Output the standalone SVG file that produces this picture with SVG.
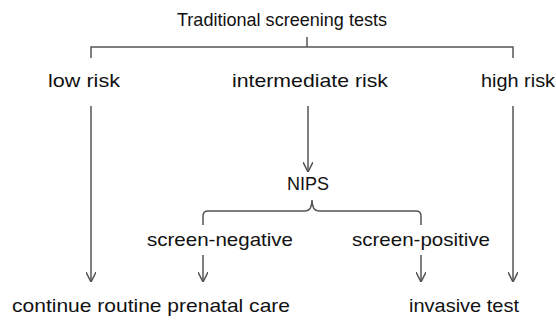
<svg xmlns="http://www.w3.org/2000/svg" width="556" height="320" viewBox="0 0 556 320">
<style>
text{font-family:"Liberation Sans",Arial,sans-serif;font-size:19px;fill:#111;}
.ln{stroke:#555;stroke-width:1.5;fill:none;}
</style>
<defs>
<marker id="ah" viewBox="0 0 10 10" refX="10" refY="5" markerWidth="10" markerHeight="10" markerUnits="userSpaceOnUse" orient="auto">
<path d="M0,0 L10,5 L0,10" fill="none" stroke="#555" stroke-width="1.5"/>
</marker>
</defs>
<rect width="556" height="320" fill="#fff"/>
<g id="title"><text x="282" y="26" text-anchor="middle" textLength="210" lengthAdjust="spacingAndGlyphs">Traditional screening tests</text></g>
<g id="low"><text x="84" y="87" text-anchor="middle" textLength="72" lengthAdjust="spacingAndGlyphs">low risk</text></g>
<g id="intermediate"><text x="310" y="87" text-anchor="middle" textLength="156" lengthAdjust="spacingAndGlyphs">intermediate risk</text></g>
<g id="high"><text x="518" y="87" text-anchor="middle" textLength="74" lengthAdjust="spacingAndGlyphs">high risk</text></g>
<g id="nips"><text x="308" y="190" text-anchor="middle" textLength="42" lengthAdjust="spacingAndGlyphs">NIPS</text></g>
<g id="neg"><text x="220" y="246" text-anchor="middle" textLength="146" lengthAdjust="spacingAndGlyphs">screen-negative</text></g>
<g id="pos"><text x="421" y="246" text-anchor="middle" textLength="138" lengthAdjust="spacingAndGlyphs">screen-positive</text></g>
<g id="routine"><text x="151" y="312" text-anchor="middle" textLength="278" lengthAdjust="spacingAndGlyphs">continue routine prenatal care</text></g>
<g id="invasive"><text x="464" y="312" text-anchor="middle" textLength="110" lengthAdjust="spacingAndGlyphs">invasive test</text></g>
<g id="connectors">
<path class="ln" d="M307,37 V47 M91,58 V47 H513 V58"/>
<path class="ln" d="M312,200 Q312,211 305,211 H208 Q203,211 203,216 V225 M312,200 Q312,211 319,211 H416 Q421,211 421,216 V225"/>
<line class="ln" x1="91" y1="106" x2="91" y2="282" marker-end="url(#ah)"/>
<line class="ln" x1="308" y1="106" x2="308" y2="172" marker-end="url(#ah)"/>
<line class="ln" x1="513" y1="106" x2="513" y2="282" marker-end="url(#ah)"/>
<line class="ln" x1="203" y1="255" x2="203" y2="282" marker-end="url(#ah)"/>
<line class="ln" x1="421" y1="255" x2="421" y2="282" marker-end="url(#ah)"/>
</g>
</svg>
